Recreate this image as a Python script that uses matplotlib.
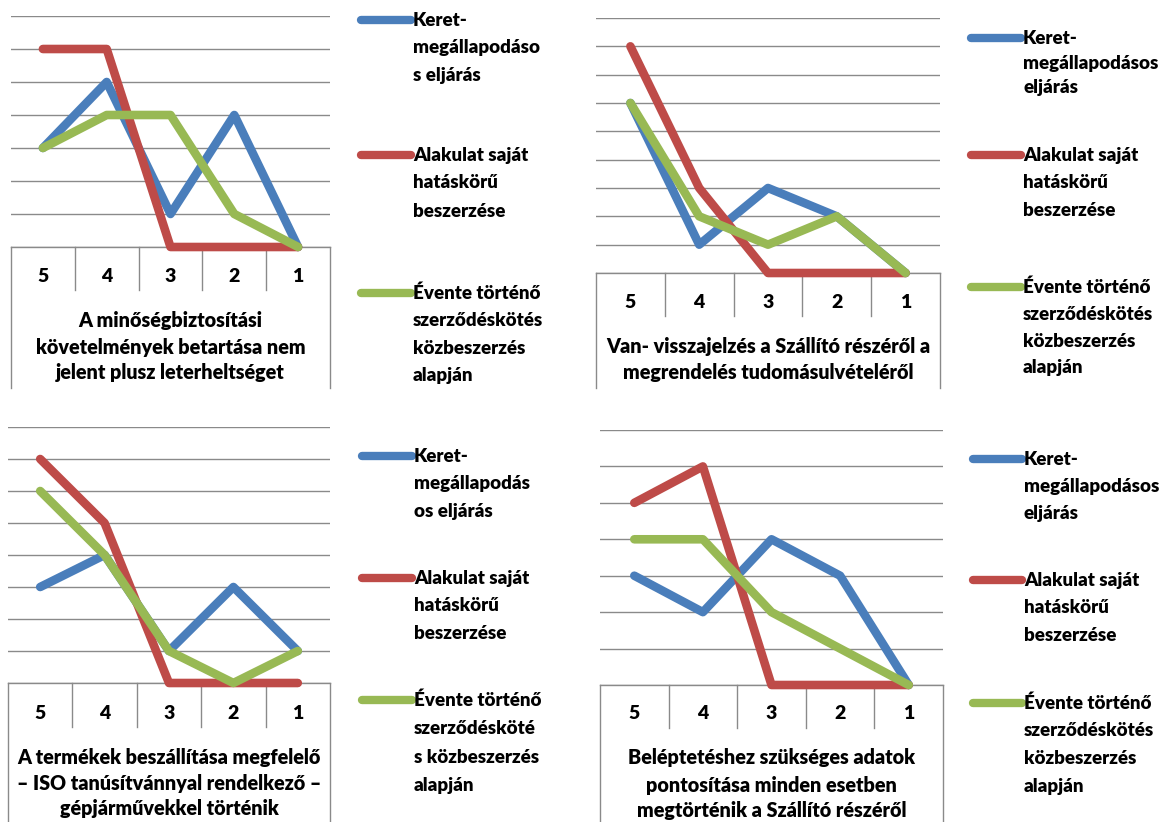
import matplotlib
matplotlib.use("Agg")
import matplotlib.pyplot as plt
from matplotlib.lines import Line2D

W, H, DPI = 1174, 822, 100

# ---------------- data ----------------
categories = ["5", "4", "3", "2", "1"]

p1_keret = [3, 5, 1, 4, 0]
p1_alakulat = [6, 6, 0, 0, 0]
p1_eventi = [3, 4, 4, 1, 0]

p2_keret = [6, 1, 3, 2, 0]
p2_alakulat = [8, 3, 0, 0, 0]
p2_eventi = [6, 2, 1, 2, 0]

p3_keret = [3, 4, 1, 3, 1]
p3_alakulat = [7, 5, 0, 0, 0]
p3_eventi = [6, 4, 1, 0, 1]

p4_keret = [3, 2, 4, 3, 0]
p4_alakulat = [5, 6, 0, 0, 0]
p4_eventi = [4, 4, 2, 1, 0]

title1 = ["A minőségbiztosítási", "követelmények betartása nem", "jelent plusz leterheltséget"]
title2 = ["Van- visszajelzés a Szállító részéről a", "megrendelés tudomásulvételéről"]
title3 = ["A termékek beszállítása megfelelő", "– ISO tanúsítvánnyal rendelkező –", "gépjárművekkel történik"]
title4 = ["Beléptetéshez szükséges adatok", "pontosítása minden esetben", "megtörténik a Szállító részéről"]

legend1 = [["Keret-", "megállapodáso", "s eljárás"],
           ["Alakulat saját", "hatáskörű", "beszerzése"],
           ["Évente történő", "szerződéskötés", "közbeszerzés", "alapján"]]
legend2 = [["Keret-", "megállapodásos", "eljárás"],
           ["Alakulat saját", "hatáskörű", "beszerzése"],
           ["Évente történő", "szerződéskötés", "közbeszerzés", "alapján"]]
legend3 = [["Keret-", "megállapodás", "os eljárás"],
           ["Alakulat saját", "hatáskörű", "beszerzése"],
           ["Évente történő", "szerződésköté", "s közbeszerzés", "alapján"]]
legend4 = legend2

colors = ["#4A7EBB", "#BE4B48", "#98B954"]
GRID = "#8A8A8A"
FONT = "Lato"
WEIGHT = 800
FS_TITLE = 14.2
FS_LEG = 13.5
FS_CAT = 14

# ---------------- layout (pixels) ----------------
panels = [
    dict(series=[p1_keret, p1_alakulat, p1_eventi], ymax=7, L=11, R=330, top=16, base=247,
         boxbot=388, divbot=290, laby=277, title=title1, titley=[320, 347, 373],
         legend=legend1, lx0=361, lx1=411, ly=[[20, 47, 75], [155, 182, 211], [293, 320, 348, 375]]),
    dict(series=[p2_keret, p2_alakulat, p2_eventi], ymax=9, L=596, R=940, top=18, base=273,
         boxbot=388, divbot=316, laby=303, title=title2, titley=[346, 373],
         legend=legend2, lx0=971, lx1=1021, ly=[[38, 63, 88], [155, 183, 210], [287, 314, 341, 367]]),
    dict(series=[p3_keret, p3_alakulat, p3_eventi], ymax=8, L=8, R=330, top=427, base=683,
         boxbot=822, divbot=727, laby=713, title=title3, titley=[757, 783, 808],
         legend=legend3, lx0=362, lx1=412, ly=[[456, 483, 512], [578, 605, 633], [700, 728, 757, 785]]),
    dict(series=[p4_keret, p4_alakulat, p4_eventi], ymax=7, L=600, R=943, top=430, base=685,
         boxbot=822, divbot=728, laby=713, title=title4, titley=[757, 785, 810],
         legend=legend4, lx0=973, lx1=1022, ly=[[459, 486, 514], [580, 607, 635], [703, 730, 758, 786]]),
]

fig = plt.figure(figsize=(W / DPI, H / DPI), dpi=DPI)
fig.patch.set_facecolor("white")

def fx(px):
    return px / W

def fy(py):
    return 1 - py / H

for p in panels:
    L, R, top, base = p["L"], p["R"], p["top"], p["base"]
    ax = fig.add_axes([fx(L), fy(base), (R - L) / W, (base - top) / H])
    ax.set_xlim(-0.5, len(categories) - 0.5)
    ax.set_ylim(0, p["ymax"])
    for s in ax.spines.values():
        s.set_visible(False)
    ax.set_yticks(range(0, p["ymax"] + 1))
    ax.yaxis.grid(True, color=GRID, lw=1.0)
    ax.set_axisbelow(True)
    ax.tick_params(axis="y", length=0, labelleft=False)
    ax.set_xticks(range(len(categories)))
    ax.set_xticklabels([])
    ax.tick_params(axis="x", length=0)
    x = list(range(len(categories)))
    for vals, c in zip(p["series"], colors):
        ax.plot(x, vals, color=c, lw=6.2, solid_capstyle="round",
                solid_joinstyle="round", clip_on=False, zorder=3)

    # category box below the axis
    hpx = base - top
    tr = ax.get_xaxis_transform()
    ybox = -(p["boxbot"] - base) / hpx
    ydiv = -(p["divbot"] - base) / hpx
    ax.plot([-0.5, len(categories) - 0.5], [0, 0], transform=tr, color=GRID, lw=1.0, clip_on=False, zorder=2)
    for xe in [-0.5, len(categories) - 0.5]:
        ax.plot([xe, xe], [0, ybox], transform=tr, color=GRID, lw=1.0, clip_on=False)
    for i in range(1, len(categories)):
        ax.plot([i - 0.5, i - 0.5], [0, ydiv], transform=tr, color=GRID, lw=1.0, clip_on=False)
    ylab = -(p["laby"] - base) / hpx
    for i, c in enumerate(categories):
        ax.text(i, ylab, c, transform=tr, ha="center", va="center",
                fontsize=FS_CAT, fontweight=WEIGHT, family=FONT, color="black")

    cx = (L + R) / 2
    for line, yy in zip(p["title"], p["titley"]):
        fig.text(fx(cx), fy(yy), line, ha="center", va="center",
                 fontsize=FS_TITLE, fontweight=WEIGHT, family=FONT, color="black")

    # legend
    for entry, ys, c in zip(p["legend"], p["ly"], colors):
        fig.add_artist(Line2D([fx(p["lx0"]), fx(p["lx1"])], [fy(ys[0]), fy(ys[0])],
                              color=c, lw=6.0, solid_capstyle="round"))
        for line, yy in zip(entry, ys):
            fig.text(fx(p["lx1"] + 2), fy(yy), line, ha="left", va="center",
                     fontsize=FS_LEG, fontweight=WEIGHT, family=FONT, color="black")

fig.savefig("out.png", dpi=DPI, facecolor="white")
